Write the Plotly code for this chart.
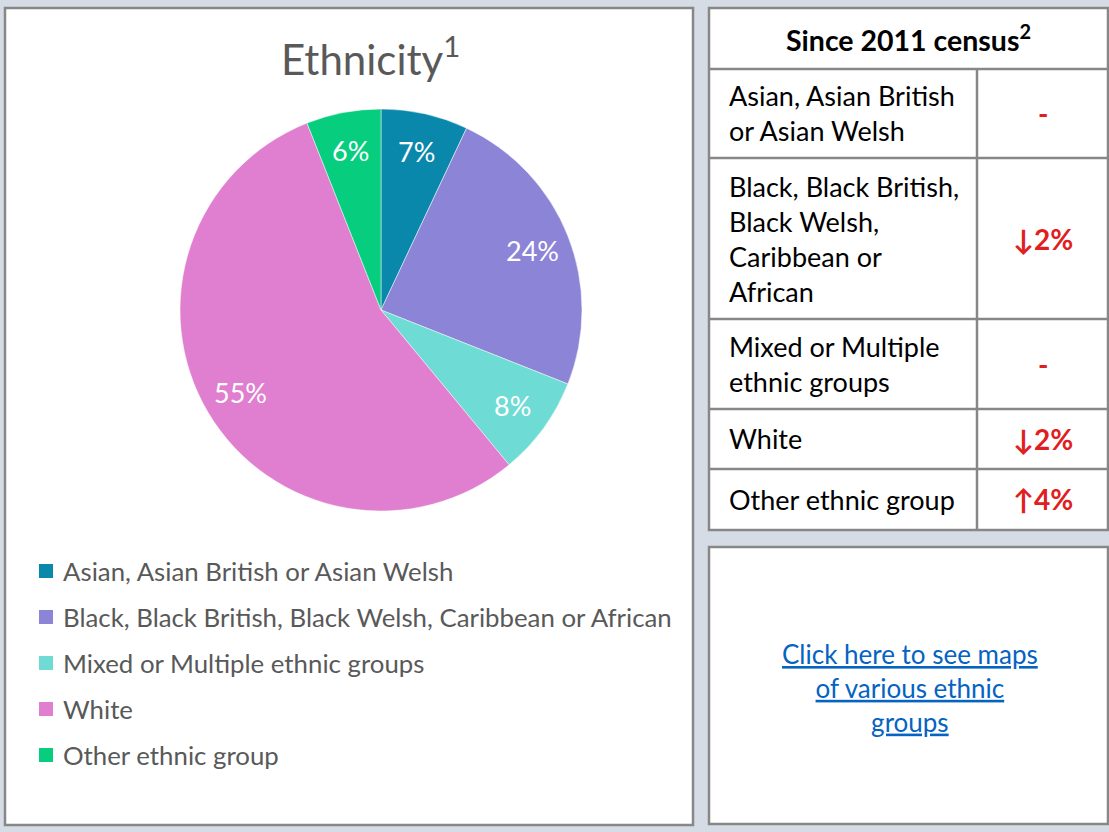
import math
import plotly.graph_objects as go

# ---- data -------------------------------------------------------------
groups = [
    "Asian, Asian British or Asian Welsh",
    "Black, Black British, Black Welsh, Caribbean or African",
    "Mixed or Multiple ethnic groups",
    "White",
    "Other ethnic group",
]
shares = [7, 24, 8, 55, 6]  # percent of population
colors = ["#0a88ac", "#8b84d7", "#6fdbd5", "#e07fcf", "#07ce7e"]

# change since 2011 census, percentage points (0 = no change)
table_groups = [
    "Asian, Asian British<br>or Asian Welsh",
    "Black, Black British,<br>Black Welsh,<br>Caribbean or<br>African",
    "Mixed or Multiple<br>ethnic groups",
    "White",
    "Other ethnic group",
]
changes = [0, -2, 0, -2, 4]

title_text = "Ethnicity<sup>1</sup>"
table_title = "<b>Since 2011 census<sup>2</sup></b>"
link_text = "<u>Click here to see maps</u><br><u>of various ethnic</u><br><u>groups</u>"

# ---- canvas helpers ----------------------------------------------------
W, H = 1109, 832
FONT = "Lato"
BG = "#d6dce5"
BORDER = "#878787"


def px(x):
    return x / W


def py(y):
    return 1 - y / H


shapes = []
annotations = []


def box(x0, y0, x1, y1, width=2.5):
    shapes.append(dict(type="rect", xref="paper", yref="paper",
                       x0=px(x0), x1=px(x1), y0=py(y1), y1=py(y0),
                       fillcolor="white", line=dict(color=BORDER, width=width),
                       layer="below"))


def hline(x0, x1, y, width=2.5):
    shapes.append(dict(type="line", xref="paper", yref="paper",
                       x0=px(x0), x1=px(x1), y0=py(y), y1=py(y),
                       line=dict(color=BORDER, width=width)))


def vline(x, y0, y1, width=2.5):
    shapes.append(dict(type="line", xref="paper", yref="paper",
                       x0=px(x), x1=px(x), y0=py(y0), y1=py(y1),
                       line=dict(color=BORDER, width=width)))


# ---- left panel: pie + legend -------------------------------------------
box(5, 8, 693, 825)

pie_cx, pie_cy, pie_r = 381, 310, 201

fig = go.Figure(go.Pie(
    labels=groups,
    values=shares,
    sort=False,
    direction="clockwise",
    rotation=0,
    marker=dict(colors=colors, line=dict(color="rgba(255,255,255,0.6)", width=0.8)),
    textinfo="none",
    domain=dict(x=[px(pie_cx - pie_r), px(pie_cx + pie_r)],
                y=[py(pie_cy + pie_r), py(pie_cy - pie_r)]),
    showlegend=False,
    hoverinfo="label+percent",
))

# percentage labels placed along each slice's bisector (best-fit style)
total = sum(shares)
cum = 0
for s in shares:
    mid = (cum + s / 2) / total * 2 * math.pi
    rr = pie_r * 0.81
    annotations.append(dict(text=f"{s}%", xref="paper", yref="paper",
                            x=px(pie_cx + rr * math.sin(mid)),
                            y=py(pie_cy - rr * math.cos(mid)),
                            xanchor="center", yanchor="middle", showarrow=False,
                            font=dict(family=FONT, size=27, color="white")))
    cum += s

annotations.append(dict(text=title_text, xref="paper", yref="paper",
                        x=px(370), y=py(56), xanchor="center", yanchor="middle",
                        showarrow=False, font=dict(family=FONT, size=42, color="#595959")))

# legend rows
leg_top, leg_step = 571, 46
for i, (name, col) in enumerate(zip(groups, colors)):
    yc = leg_top + i * leg_step
    shapes.append(dict(type="rect", xref="paper", yref="paper",
                       x0=px(39), x1=px(53), y0=py(yc + 7), y1=py(yc - 7),
                       fillcolor=col, line=dict(width=0)))
    annotations.append(dict(text=name, xref="paper", yref="paper",
                            x=px(61), y=py(yc), xanchor="left", yanchor="middle",
                            showarrow=False,
                            font=dict(family=FONT, size=25.8, color="#595959")))

# ---- right panel: change table ------------------------------------------
tx0, tx1, tcol = 709, 1108, 977
header_top, header_bot = 8, 69
row_heights = [89, 161, 90, 60, 61]

box(tx0, header_top, tx1, header_top + (header_bot - header_top) + sum(row_heights))
annotations.append(dict(text=table_title, xref="paper", yref="paper",
                        x=px((tx0 + tx1) / 2), y=py((header_top + header_bot) / 2),
                        xanchor="center", yanchor="middle", showarrow=False,
                        font=dict(family=FONT, size=28.5, color="black")))
hline(tx0, tx1, header_bot)

y = header_bot
for label, ch, h in zip(table_groups, changes, row_heights):
    yc = y + h / 2
    annotations.append(dict(text=label, xref="paper", yref="paper",
                            x=px(727), y=py(yc), xanchor="left", yanchor="middle",
                            align="left", showarrow=False,
                            font=dict(family=FONT, size=27, color="black")))
    if ch == 0:
        val = "<b>-</b>"
    elif ch < 0:
        val = f"<b>\u2193{abs(ch)}%</b>"
    else:
        val = f"<b>\u2191{ch}%</b>"
    annotations.append(dict(text=val, xref="paper", yref="paper",
                            x=px((tcol + tx1) / 2), y=py(yc), xanchor="center",
                            yanchor="middle", showarrow=False,
                            font=dict(family=FONT, size=28, color="#e0201e")))
    y += h
    if y < header_bot + sum(row_heights):
        hline(tx0, tx1, y)
vline(tcol, header_bot, header_bot + sum(row_heights))

# ---- right panel: link box -----------------------------------------------
box(709, 547, 1108, 824)
annotations.append(dict(text=link_text, xref="paper", yref="paper",
                        x=px(910), y=py(688), xanchor="center", yanchor="middle",
                        align="center", showarrow=False,
                        font=dict(family=FONT, size=26, color="#0563c1")))

fig.update_layout(
    width=W, height=H,
    margin=dict(l=0, r=0, t=0, b=0),
    paper_bgcolor=BG,
    plot_bgcolor=BG,
    shapes=shapes,
    annotations=annotations,
)

fig.write_html("out.html")
